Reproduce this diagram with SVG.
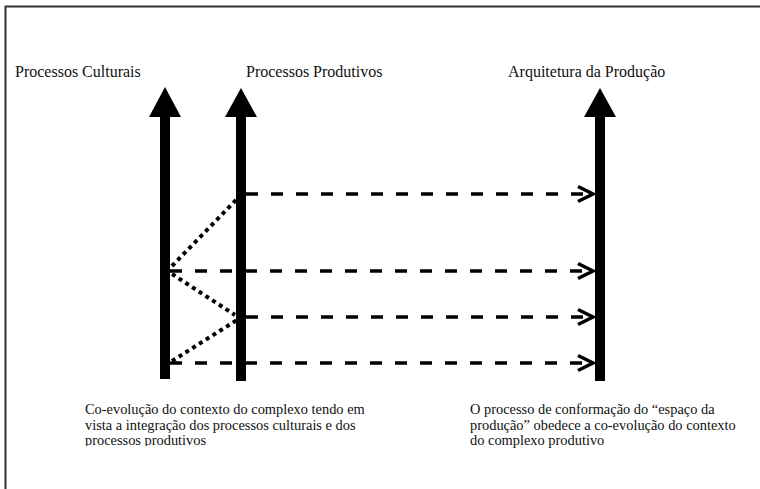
<svg xmlns="http://www.w3.org/2000/svg" width="760" height="489" viewBox="0 0 760 489">
<style>
  text { font-family: 'Liberation Serif', 'Times New Roman', serif; fill: #111; }
  .hdr { font-size: 16px; }
  .body { font-size: 14.4px; }
  .dash { stroke: #000; stroke-width: 3.5; stroke-dasharray: 12 13; fill: none; }
  .dot { stroke: #000; stroke-width: 4; stroke-dasharray: 4 4; fill: none; }
  .arrow { fill: #000; }
</style>
<defs>
  <marker id="chev" markerUnits="userSpaceOnUse" markerWidth="20" markerHeight="20" refX="16" refY="10" orient="auto">
    <path d="M1,2.5 L16,10 L1,17.5" fill="none" stroke="#000" stroke-width="3.5"/>
  </marker>
  <clipPath id="clipL"><rect x="0" y="0" width="760" height="446"/></clipPath>
</defs>
<rect x="0" y="0" width="760" height="489" fill="#fff"/>
<path d="M5.5,489 L5.5,6.5 L760,6.5" fill="none" stroke="#333" stroke-width="2"/>

<g id="node-culturais">
  <text class="hdr" x="15" y="77">Processos Culturais</text>
  <rect class="arrow" x="160" y="115" width="10" height="264"/>
  <polygon class="arrow" points="149,117 165,87 181,117"/>
</g>
<g id="node-produtivos">
  <text class="hdr" x="246" y="77">Processos Produtivos</text>
  <rect class="arrow" x="236" y="115" width="10" height="266"/>
  <polygon class="arrow" points="225,117 241,88 257,117"/>
</g>
<g id="node-arquitetura">
  <text class="hdr" x="508" y="77">Arquitetura da Produção</text>
  <rect class="arrow" x="595" y="115" width="10" height="266"/>
  <polygon class="arrow" points="584,117 600,88 616,117"/>
</g>

<g id="connectors">
  <line class="dash" x1="246" y1="194" x2="593" y2="194" marker-end="url(#chev)"/>
  <line class="dash" x1="170" y1="271" x2="593" y2="271" marker-end="url(#chev)"/>
  <line class="dash" x1="246" y1="317" x2="593" y2="317" marker-end="url(#chev)"/>
  <line class="dash" x1="170" y1="363" x2="593" y2="363" marker-end="url(#chev)"/>
  <line class="dot" x1="172" y1="266" x2="236" y2="200"/>
  <line class="dot" x1="172" y1="274" x2="235" y2="315"/>
  <line class="dot" x1="172" y1="361" x2="237" y2="320"/>
</g>

<g id="note-left" clip-path="url(#clipL)">
  <text class="body" x="85" y="414">Co-evolução do contexto do complexo tendo em</text>
  <text class="body" x="85" y="429.5">vista a integração dos processos culturais e dos</text>
  <text class="body" x="85" y="445">processos produtivos</text>
</g>
<g id="note-right">
  <text class="body" x="470" y="414">O processo de conformação do “espaço da</text>
  <text class="body" x="470" y="429.5">produção” obedece a co-evolução do contexto</text>
  <text class="body" x="470" y="445">do complexo produtivo</text>
</g>
</svg>
